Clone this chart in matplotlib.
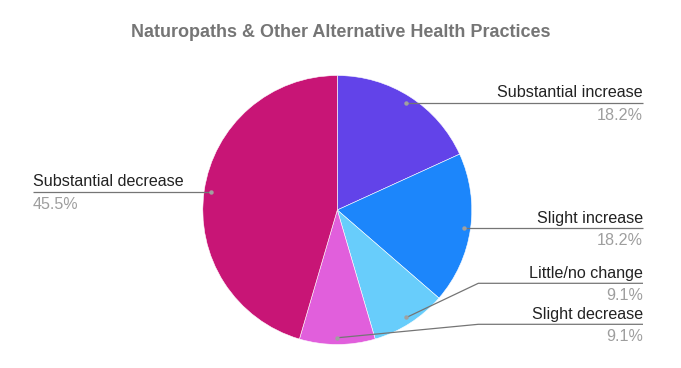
import numpy as np
import matplotlib
matplotlib.use("Agg")
import matplotlib.pyplot as plt

plt.rcParams['font.family'] = ['Liberation Sans', 'DejaVu Sans']

# Data
categories = ["Substantial increase", "Slight increase", "Little/no change",
              "Slight decrease", "Substantial decrease"]
shares = [18.2, 18.2, 9.1, 9.1, 45.5]
pct_labels = ["18.2%", "18.2%", "9.1%", "9.1%", "45.5%"]
colors = ["#6243E9", "#1C86FB", "#68CDFB", "#E15FDC", "#C81576"]

W, H = 681, 368

def py(y):
    # pixel y (from top) -> data y
    return H - y

fig = plt.figure(figsize=(W / 100, H / 100), dpi=100)
ax = fig.add_axes([0, 0, 1, 1])

cx, cy, r = 337.3, py(210), 134.5
wedges, _ = ax.pie(shares, colors=colors, startangle=90, counterclock=False,
                   center=(cx, cy), radius=r,
                   wedgeprops=dict(edgecolor="white", linewidth=0.4))

ax.set_xlim(0, W)
ax.set_ylim(0, H)
ax.set_aspect("equal")
ax.axis("off")

# label layout: which side, optional elbow y (px from top)
sides = ["right", "right", "right", "right", "left"]
elbow_x = 478.3
elbow_y = [None, None, 283.3, 324.3, None]
line_col = "#757575"

for i, w in enumerate(wedges):
    mid = np.radians((w.theta1 + w.theta2) / 2)
    dx, dy = cx + 0.95 * r * np.cos(mid), cy + 0.95 * r * np.sin(mid)
    right = sides[i] == "right"
    end_x = 643 if right else 33
    if elbow_y[i] is None:
        xs, ys = [dx, end_x], [dy, dy]
        ly = dy
    else:
        ly = py(elbow_y[i])
        xs, ys = [dx, elbow_x, end_x], [dy, ly, ly]
    ax.plot(xs, ys, color=line_col, lw=0.9, solid_capstyle="butt", zorder=3)
    ax.plot(dx, dy, "o", ms=3.2, color="#A0A0A0", mec="none", zorder=4)
    ha = "right" if right else "left"
    ax.text(end_x, ly + 5.5, categories[i], ha=ha, va="baseline",
            fontsize=11.6, color="#222222")
    ax.text(end_x, ly - 17, pct_labels[i], ha=ha, va="baseline",
            fontsize=11.6, color="#9E9E9E")

fig.text(341 / W, 1 - 32.5 / H, "Naturopaths & Other Alternative Health Practices",
         ha="center", va="center", fontsize=13, fontweight="bold", color="#757575")

fig.savefig("out.png", dpi=100, facecolor="white")
